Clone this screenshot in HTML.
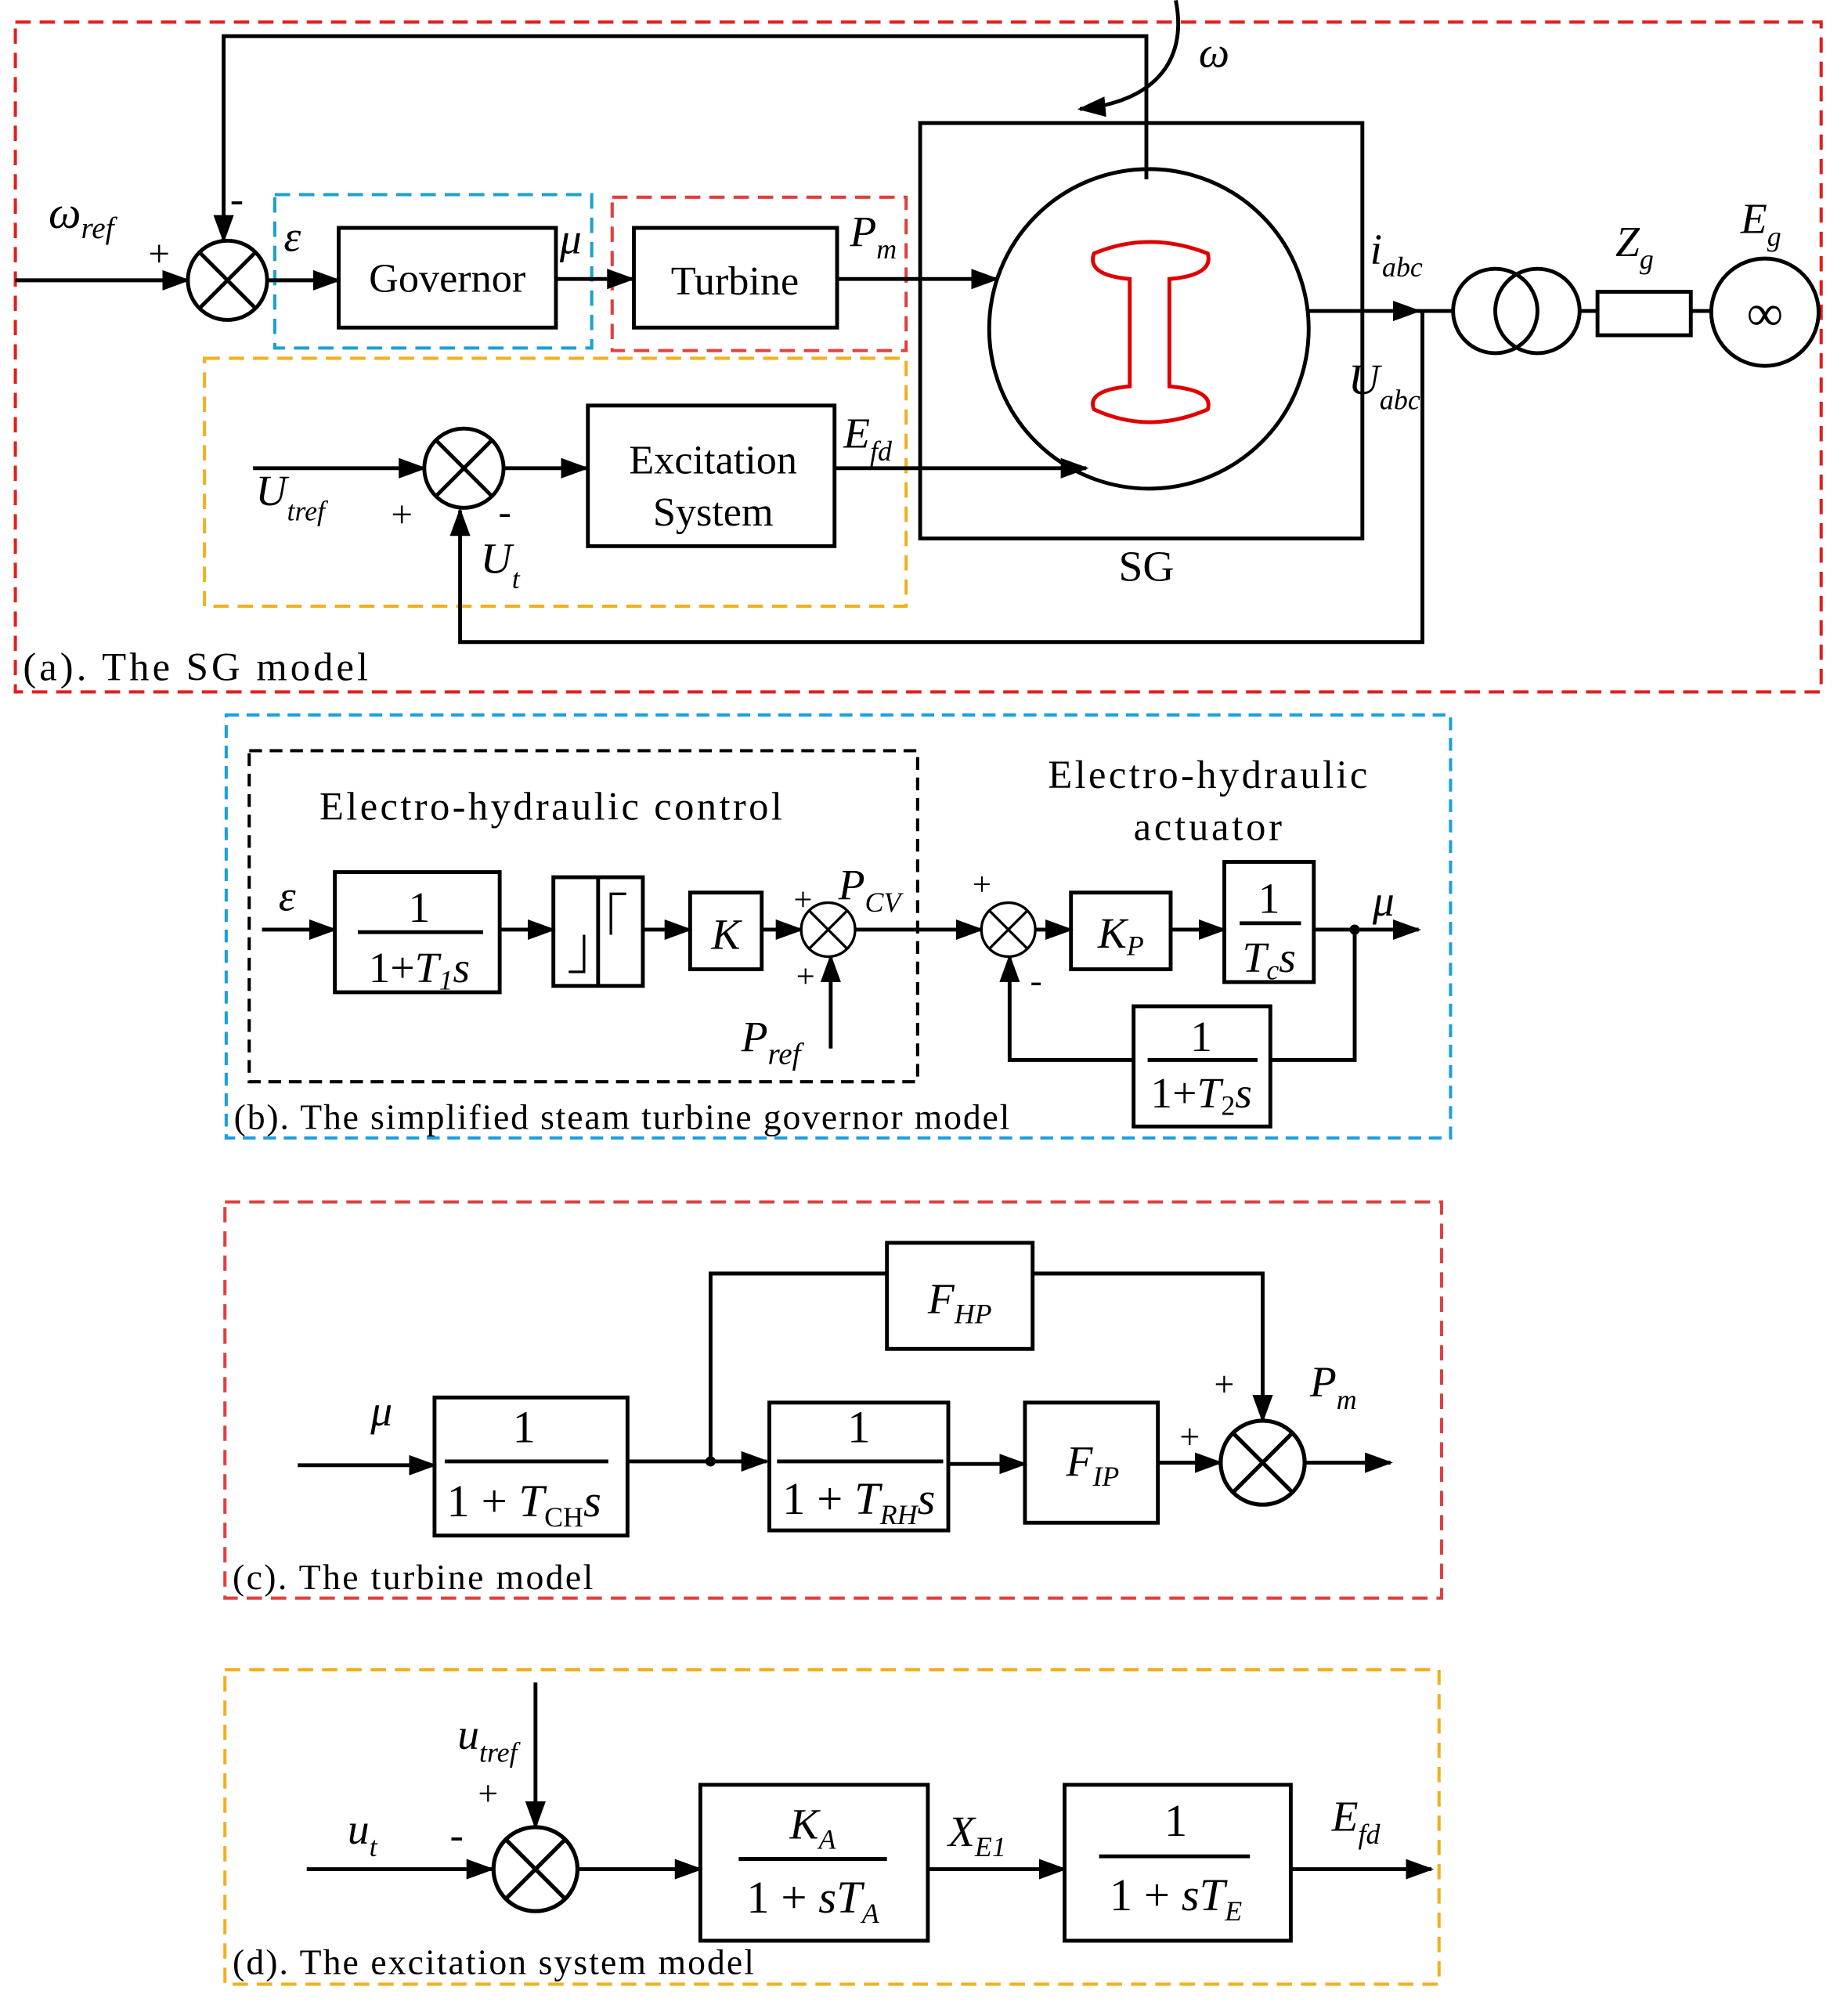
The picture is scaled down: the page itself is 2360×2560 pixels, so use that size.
<!DOCTYPE html>
<html><head><meta charset="utf-8"><style>
html,body{margin:0;padding:0;background:#fff}
svg{display:block}
text{font-family:"Liberation Serif",serif;fill:#000}
.i{font-style:italic}
</style></head><body>
<svg width="2360" height="2560" viewBox="0 0 1446 1568" xmlns="http://www.w3.org/2000/svg">
<defs>
<marker id="b" markerWidth="22" markerHeight="16" refX="20" refY="8" orient="auto" markerUnits="userSpaceOnUse" viewBox="0 0 22 16"><path d="M0,0 L22,8 L0,16 z" fill="#000"/></marker>
<g id="sum"><circle r="31" fill="#fff" stroke="#000" stroke-width="3"/><path d="M-22,-22 L22,22 M22,-22 L-22,22" stroke="#000" stroke-width="3"/></g>
</defs>
<g fill="none" stroke-width="2.5">
<rect x="12" y="17" width="1413" height="524" stroke="#e02020" stroke-dasharray="12,7"/>
<rect x="215" y="152" width="248" height="120" stroke="#1aa0d0" stroke-dasharray="12,7"/>
<rect x="479" y="154" width="230" height="120" stroke="#e04040" stroke-dasharray="12,7"/>
<rect x="160" y="280" width="549" height="194" stroke="#f0b020" stroke-dasharray="12,7"/>
<rect x="177" y="559" width="958" height="331" stroke="#1aa0e0" stroke-dasharray="10,6"/>
<rect x="195" y="587" width="523" height="259" stroke="#000" stroke-dasharray="10,6"/>
<rect x="176" y="940" width="952" height="310" stroke="#e04040" stroke-dasharray="12,7"/>
<rect x="176" y="1306" width="950" height="246" stroke="#f0b020" stroke-dasharray="12,7"/>
</g>
<g fill="none" stroke="#000" stroke-width="3">
<path d="M12,219 H147" marker-end="url(#b)"/>
<path d="M897,140 V28 H175 V188" marker-end="url(#b)"/>
<path d="M209,219 H265" marker-end="url(#b)"/>
<rect x="265" y="178" width="170" height="78"/>
<path d="M435,218 H495" marker-end="url(#b)"/>
<rect x="496" y="178" width="159" height="78"/>
<path d="M655,218 H780" marker-end="url(#b)"/>
<rect x="720" y="96" width="346" height="325"/>
<circle cx="899" cy="257" r="125"/>
<path d="M920,0 C930,50 900,80 845,85" marker-end="url(#b)"/>
<path d="M1024,243 H1110" marker-end="url(#b)"/>
<path d="M1108,243 H1137"/>
<circle cx="1170" cy="243" r="33"/><circle cx="1203" cy="243" r="33"/>
<path d="M1236,243 H1250 M1323,243 H1340"/>
<rect x="1250" y="228" width="73" height="34"/>
<circle cx="1381" cy="244" r="42"/>
<path d="M1113,243 V502 H360 V399" marker-end="url(#b)"/>
<path d="M198,366 H332" marker-end="url(#b)"/>
<path d="M394,366 H459" marker-end="url(#b)"/>
<rect x="460" y="317" width="193" height="110"/>
<path d="M653,366 H850" marker-end="url(#b)"/>
<path d="M205,727 H262" marker-end="url(#b)"/>
<rect x="262" y="682" width="129" height="94"/>
<path d="M280,729 H378"/>
<path d="M391,727 H433" marker-end="url(#b)"/>
<rect x="433" y="686" width="70" height="85"/>
<path d="M468,686 V771"/>
<path d="M503,727 H540" marker-end="url(#b)"/>
<rect x="540" y="698" width="56" height="60"/>
<path d="M596,727 H627" marker-end="url(#b)"/>
<path d="M650,820 V748" marker-end="url(#b)"/>
<path d="M669,727 H768" marker-end="url(#b)"/>
<path d="M810,727 H838" marker-end="url(#b)"/>
<rect x="838" y="698" width="78" height="60"/>
<path d="M916,727 H958" marker-end="url(#b)"/>
<rect x="958" y="674" width="70" height="94"/>
<path d="M970,722 H1018"/>
<path d="M1028,727 H1110" marker-end="url(#b)"/>
<path d="M1060,727 V829 H994"/>
<rect x="887" y="787" width="107" height="94"/>
<path d="M898,829 H984"/>
<path d="M887,829 H790 V748" marker-end="url(#b)"/>
<path d="M233,1146 H340" marker-end="url(#b)"/>
<rect x="340" y="1093" width="151" height="108"/>
<path d="M348,1143 H476"/>
<path d="M491,1143 H600" marker-end="url(#b)"/>
<path d="M556,1143 V996 H694"/>
<rect x="694" y="972" width="114" height="83"/>
<path d="M808,996 H988 V1111" marker-end="url(#b)"/>
<rect x="602" y="1097" width="140" height="100"/>
<path d="M608,1143 H738"/>
<path d="M742,1145 H802" marker-end="url(#b)"/>
<rect x="802" y="1097" width="104" height="94"/>
<path d="M906,1144 H955" marker-end="url(#b)"/>
<path d="M1021,1144 H1088" marker-end="url(#b)"/>
<path d="M240,1462 H385" marker-end="url(#b)"/>
<path d="M419,1316 V1429" marker-end="url(#b)"/>
<path d="M452,1462 H548" marker-end="url(#b)"/>
<rect x="548" y="1396" width="178" height="122"/>
<path d="M578,1454 H694"/>
<path d="M726,1462 H833" marker-end="url(#b)"/>
<rect x="833" y="1396" width="177" height="122"/>
<path d="M860,1452 H978"/>
<path d="M1010,1462 H1120" marker-end="url(#b)"/>
</g>
<path d="M445,760 H457 V731 M478,731 V699 H490" fill="none" stroke="#000" stroke-width="2"/>
<path d="M856,198 Q899,180 945,198 Q950,215 915,218 V302 Q950,305 945,320 Q899,340 856,320 Q850,305 884,302 V218 Q850,215 856,198 Z" fill="none" stroke="#e00000" stroke-width="3"/>
<circle cx="556" cy="1143" r="4" fill="#000"/>
<circle cx="1060" cy="727" r="4" fill="#000"/>
<use href="#sum" x="178" y="219"/>
<use href="#sum" x="363" y="366"/>
<use href="#sum" transform="translate(648,727) scale(0.68)"/>
<use href="#sum" transform="translate(789,727) scale(0.68)"/>
<use href="#sum" transform="translate(988,1144) scale(1.06)"/>
<use href="#sum" transform="translate(419,1462) scale(1.06)"/>
<text x="38" y="178" font-size="36" class="i">ω<tspan font-size="24" dy="8">ref</tspan></text>
<text x="116" y="208" font-size="30">+</text>
<text x="180" y="166" font-size="32">-</text>
<text x="222" y="196" font-size="34" class="i">ε</text>
<text x="350" y="228" font-size="32" text-anchor="middle">Governor</text>
<text x="438" y="198" font-size="34" class="i">μ</text>
<text x="575" y="230" font-size="32" text-anchor="middle">Turbine</text>
<text x="665" y="192" font-size="34" class="i">P<tspan font-size="22" dy="10">m</tspan></text>
<text x="938" y="52" font-size="34" class="i">ω</text>
<text x="1072" y="206" font-size="34" class="i">i<tspan font-size="22" dy="10">abc</tspan></text>
<text x="1264" y="200" font-size="34" class="i">Z<tspan font-size="22" dy="10">g</tspan></text>
<text x="1362" y="182" font-size="34" class="i">E<tspan font-size="22" dy="10">g</tspan></text>
<text x="1381" y="258" font-size="40" text-anchor="middle">∞</text>
<text x="1055" y="308" font-size="34" class="i">U<tspan font-size="22" dy="12">abc</tspan></text>
<text x="200" y="395" font-size="34" class="i">U<tspan font-size="22" dy="12">tref</tspan></text>
<text x="306" y="412" font-size="30">+</text>
<text x="390" y="410" font-size="30">-</text>
<text x="376" y="448" font-size="34" class="i">U<tspan font-size="22" dy="12">t</tspan></text>
<text x="558" y="370" font-size="32" text-anchor="middle">Excitation</text>
<text x="558" y="411" font-size="32" text-anchor="middle">System</text>
<text x="660" y="350" font-size="34" class="i">E<tspan font-size="22" dy="10">fd</tspan></text>
<text x="897" y="454" font-size="34" text-anchor="middle">SG</text>
<text x="18" y="532" font-size="31" textLength="270" lengthAdjust="spacing">(a). The SG model</text>
<text x="250" y="641" font-size="31" textLength="362" lengthAdjust="spacing">Electro-hydraulic control</text>
<text x="820" y="616" font-size="31" textLength="250" lengthAdjust="spacing">Electro-hydraulic</text>
<text x="887" y="657" font-size="31" textLength="116" lengthAdjust="spacing">actuator</text>
<text x="218" y="712" font-size="34" class="i">ε</text>
<text x="328" y="721" font-size="34" text-anchor="middle">1</text>
<text x="328" y="768" font-size="34" text-anchor="middle">1+<tspan class="i">T</tspan><tspan font-size="22" dy="6" class="i">1</tspan><tspan dy="-6" class="i">s</tspan></text>
<text x="568" y="742" font-size="34" text-anchor="middle" class="i">K</text>
<text x="621" y="712" font-size="26">+</text>
<text x="623" y="772" font-size="26">+</text>
<text x="656" y="703" font-size="34" class="i">P<tspan font-size="22" dy="10">CV</tspan></text>
<text x="580" y="822" font-size="34" class="i">P<tspan font-size="24" dy="10">ref</tspan></text>
<text x="761" y="700" font-size="26">+</text>
<text x="806" y="776" font-size="28">-</text>
<text x="877" y="741" font-size="34" text-anchor="middle" class="i">K<tspan font-size="22" dy="6">P</tspan></text>
<text x="993" y="714" font-size="34" text-anchor="middle">1</text>
<text x="993" y="760" font-size="34" text-anchor="middle" class="i">T<tspan font-size="22" dy="6">c</tspan><tspan dy="-6">s</tspan></text>
<text x="1074" y="716" font-size="34" class="i">μ</text>
<text x="940" y="822" font-size="34" text-anchor="middle">1</text>
<text x="940" y="866" font-size="34" text-anchor="middle">1+<tspan class="i">T</tspan><tspan font-size="22" dy="6">2</tspan><tspan dy="-6" class="i">s</tspan></text>
<text x="183" y="883" font-size="28" textLength="607" lengthAdjust="spacing">(b). The simplified steam turbine governor model</text>
<text x="290" y="1115" font-size="34" class="i">μ</text>
<text x="410" y="1128" font-size="36" text-anchor="middle">1</text>
<text x="410" y="1186" font-size="36" text-anchor="middle">1 + <tspan class="i">T</tspan><tspan font-size="22" dy="8">CH</tspan><tspan dy="-8" class="i">s</tspan></text>
<text x="751" y="1027" font-size="34" text-anchor="middle" class="i">F<tspan font-size="22" dy="8">HP</tspan></text>
<text x="672" y="1128" font-size="36" text-anchor="middle">1</text>
<text x="672" y="1184" font-size="36" text-anchor="middle">1 + <tspan class="i">T</tspan><tspan font-size="22" dy="8" class="i">RH</tspan><tspan dy="-8" class="i">s</tspan></text>
<text x="855" y="1154" font-size="34" text-anchor="middle" class="i">F<tspan font-size="22" dy="8">IP</tspan></text>
<text x="950" y="1092" font-size="28">+</text>
<text x="923" y="1133" font-size="28">+</text>
<text x="1025" y="1092" font-size="34" class="i">P<tspan font-size="22" dy="10">m</tspan></text>
<text x="182" y="1243" font-size="28" textLength="282" lengthAdjust="spacing">(c). The turbine model</text>
<text x="358" y="1368" font-size="34" class="i">u<tspan font-size="22" dy="10">tref</tspan></text>
<text x="374" y="1412" font-size="28">+</text>
<text x="352" y="1446" font-size="32">-</text>
<text x="272" y="1442" font-size="34" class="i">u<tspan font-size="22" dy="10">t</tspan></text>
<text x="636" y="1438" font-size="34" text-anchor="middle" class="i">K<tspan font-size="22" dy="8">A</tspan></text>
<text x="636" y="1496" font-size="36" text-anchor="middle">1 + <tspan class="i">sT</tspan><tspan font-size="22" dy="8" class="i">A</tspan></text>
<text x="742" y="1444" font-size="34" class="i">X<tspan font-size="22" dy="8">E1</tspan></text>
<text x="920" y="1436" font-size="36" text-anchor="middle">1</text>
<text x="920" y="1494" font-size="36" text-anchor="middle">1 + <tspan class="i">sT</tspan><tspan font-size="22" dy="8" class="i">E</tspan></text>
<text x="1042" y="1432" font-size="34" class="i">E<tspan font-size="22" dy="10">fd</tspan></text>
<text x="182" y="1544" font-size="28" textLength="408" lengthAdjust="spacing">(d). The excitation system model</text>
</svg>
</body></html>
